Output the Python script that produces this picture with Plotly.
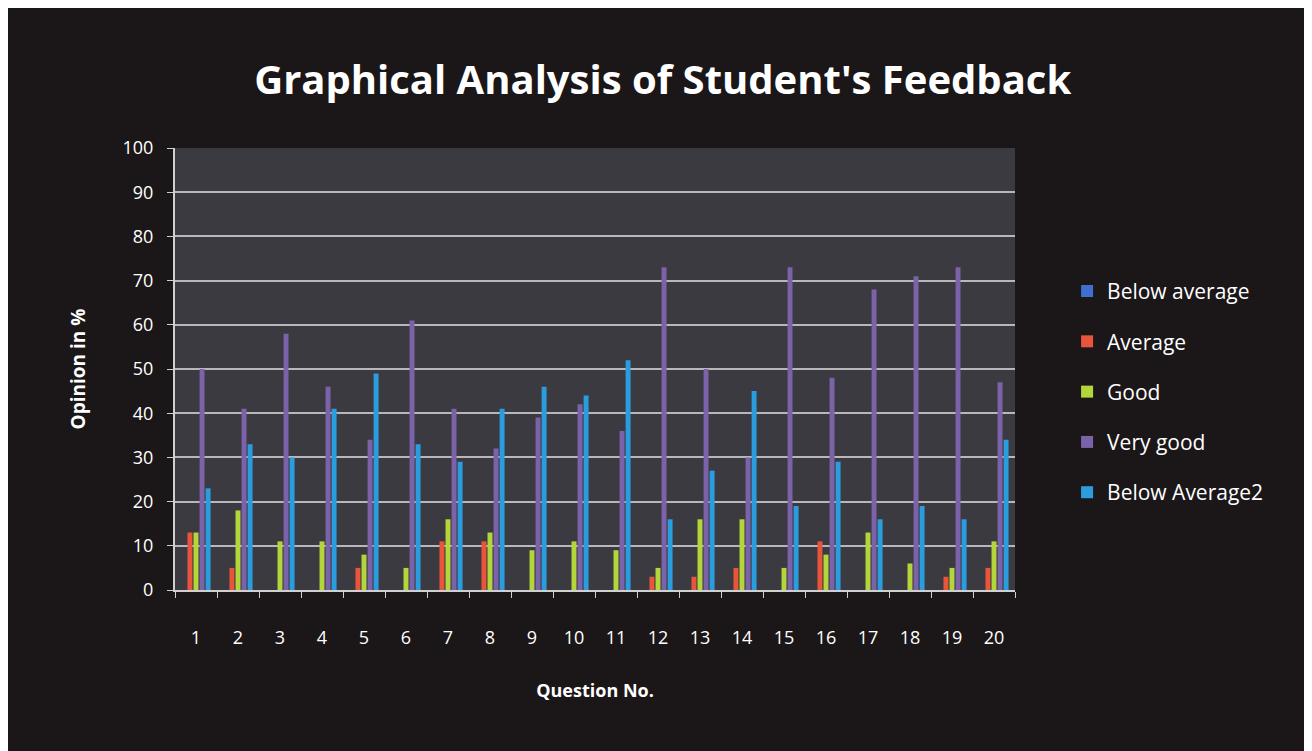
import plotly.graph_objects as go

questions = [str(i) for i in range(1, 21)]
below_average = [0] * 20
average = [13, 5, 0, 0, 5, 0, 11, 11, 0, 0, 0, 3, 3, 5, 0, 11, 0, 0, 3, 5]
good = [13, 18, 11, 11, 8, 5, 16, 13, 9, 11, 9, 5, 16, 16, 5, 8, 13, 6, 5, 11]
very_good = [50, 41, 58, 46, 34, 61, 41, 32, 39, 42, 36, 73, 50, 30, 73, 48, 68, 71, 73, 47]
below_average2 = [23, 33, 30, 41, 49, 33, 29, 41, 46, 44, 52, 16, 27, 45, 19, 29, 16, 19, 16, 34]

series = [
    ("Below average", below_average, "#3f6fd0"),
    ("Average", average, "#e8543c"),
    ("Good", good, "#b3d63a"),
    ("Very good", very_good, "#7c62a8"),
    ("Below Average2", below_average2, "#2b9ddf"),
]

fig = go.Figure()
for i, (name, vals, col) in enumerate(series):
    fig.add_trace(go.Bar(x=questions, y=vals, name=name, marker_color=col,
                         marker_line_width=0, legendgroup=f"g{i}"))

font_family = "Open Sans, Lato, sans-serif"
fig.update_layout(
    width=1312, height=751,
    paper_bgcolor="#1b1617",
    plot_bgcolor="#3b3a40",
    barmode="group",
    bargap=0.28,
    bargroupgap=0.18,
    margin=dict(l=167, r=305, t=140, b=169),
    title=dict(text="<b>Graphical Analysis of Student's Feedback</b>",
               x=0.499, xanchor="center", y=0.904, yanchor="middle",
               font=dict(family=font_family, size=40, color="white")),
    font=dict(family=font_family, color="white", size=18),
    legend=dict(x=1.062, y=0.722, xanchor="left", yanchor="top",
                font=dict(size=21, color="white"),
                tracegroupgap=20, itemwidth=30,
                bgcolor="rgba(0,0,0,0)"),
    showlegend=True,
)
fig.update_xaxes(
    title=dict(text="<b>Question No.</b>", font=dict(size=18, color="white"), standoff=37),
    tickson="boundaries", ticks="outside", ticklen=6, tickcolor="#d0d0d0",
    showline=True, linecolor="#d0d0d0", linewidth=2,
    tickfont=dict(size=18, color="white"), showgrid=False,
    ticklabelstandoff=30,
)
fig.update_yaxes(
    title=dict(text="<b>Opinion in %</b>", font=dict(size=19, color="white"), standoff=32),
    range=[0, 100], dtick=10, ticks="outside", ticklen=6, tickcolor="#d0d0d0",
    showline=True, linecolor="#d0d0d0", linewidth=2,
    gridcolor="#b8b8bc", gridwidth=2,
    tickfont=dict(size=18, color="white"), zeroline=False,
    ticklabelstandoff=10,
)

fig.write_html("out.html")
